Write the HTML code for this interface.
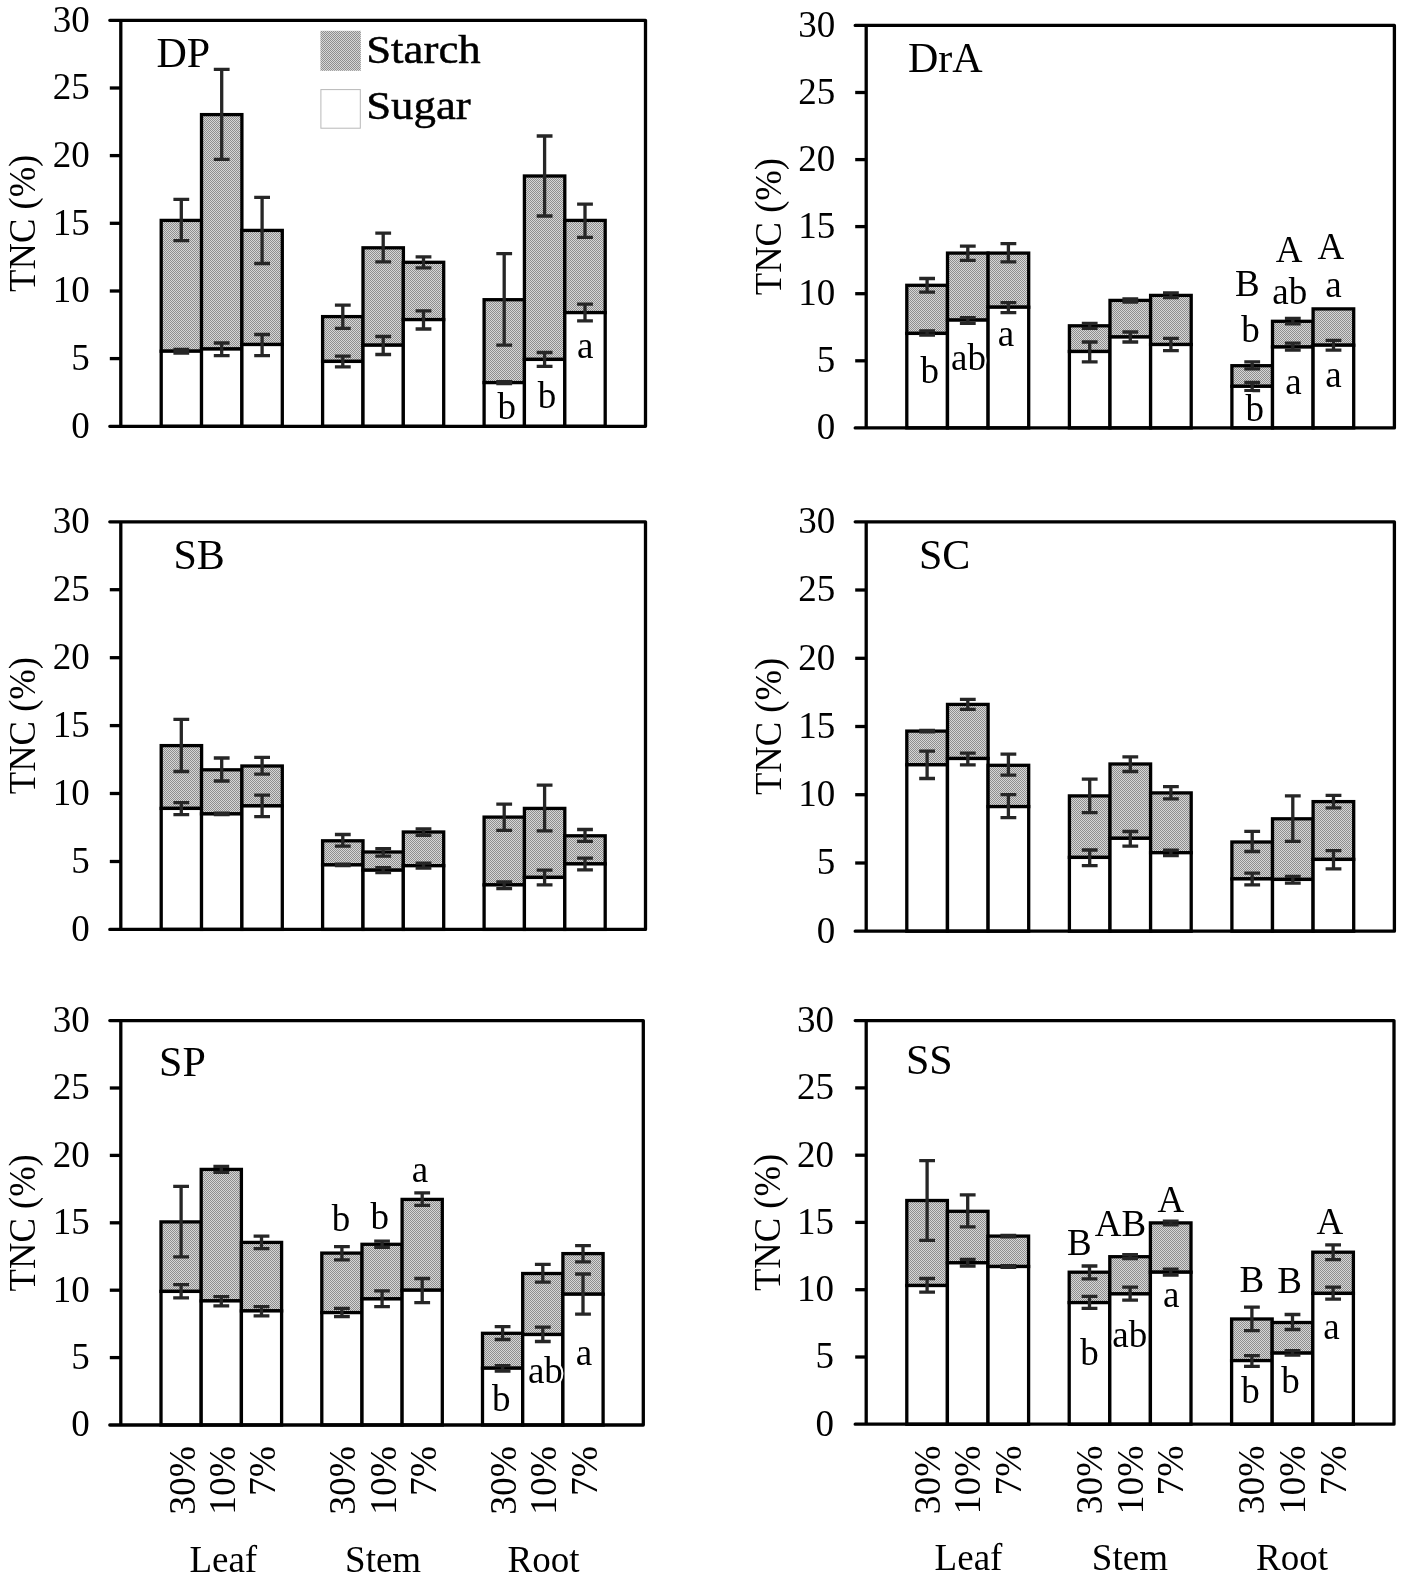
<!DOCTYPE html>
<html lang="en"><head><meta charset="utf-8"><title>TNC (%) Starch and Sugar by species</title>
<style>
html,body{margin:0;padding:0;background:#fff}
body{width:1405px;height:1575px;overflow:hidden}
svg text{font-family:"Liberation Serif", serif;fill:#000}
svg text.h{paint-order:stroke;stroke:#fff;stroke-width:4px;stroke-linejoin:round}
</style></head><body>
<svg width="1405" height="1575" viewBox="0 0 1405 1575" style="display:block;will-change:transform">
<defs><pattern id="hatch" width="2" height="2" patternUnits="userSpaceOnUse"><rect width="2" height="2" fill="#d6d6d6"/><rect x="0" y="0" width="1" height="1" fill="#8e8e8e"/><rect x="1" y="1" width="1" height="1" fill="#8e8e8e"/></pattern></defs>
<rect width="1405" height="1575" fill="#fff"/>
<g id="p-DP">
<rect x="161.2" y="220.4" width="40.4" height="130.8" fill="url(#hatch)" stroke="#000" stroke-width="3.3"/>
<rect x="161.2" y="351.2" width="40.4" height="75.1" fill="#fff" stroke="#000" stroke-width="3.3"/>
<rect x="201.5" y="114.6" width="40.4" height="234.4" fill="url(#hatch)" stroke="#000" stroke-width="3.3"/>
<rect x="201.5" y="349" width="40.4" height="77.3" fill="#fff" stroke="#000" stroke-width="3.3"/>
<rect x="241.9" y="230.4" width="40.4" height="114.1" fill="url(#hatch)" stroke="#000" stroke-width="3.3"/>
<rect x="241.9" y="344.5" width="40.4" height="81.8" fill="#fff" stroke="#000" stroke-width="3.3"/>
<rect x="322.6" y="316.6" width="40.4" height="44.8" fill="url(#hatch)" stroke="#000" stroke-width="3.3"/>
<rect x="322.6" y="361.4" width="40.4" height="64.9" fill="#fff" stroke="#000" stroke-width="3.3"/>
<rect x="363" y="247.8" width="40.4" height="97.4" fill="url(#hatch)" stroke="#000" stroke-width="3.3"/>
<rect x="363" y="345.2" width="40.4" height="81.1" fill="#fff" stroke="#000" stroke-width="3.3"/>
<rect x="403.3" y="262.3" width="40.4" height="57.3" fill="url(#hatch)" stroke="#000" stroke-width="3.3"/>
<rect x="403.3" y="319.6" width="40.4" height="106.7" fill="#fff" stroke="#000" stroke-width="3.3"/>
<rect x="484.1" y="299.7" width="40.4" height="82.9" fill="url(#hatch)" stroke="#000" stroke-width="3.3"/>
<rect x="484.1" y="382.6" width="40.4" height="43.7" fill="#fff" stroke="#000" stroke-width="3.3"/>
<rect x="524.4" y="176" width="40.4" height="183.4" fill="url(#hatch)" stroke="#000" stroke-width="3.3"/>
<rect x="524.4" y="359.4" width="40.4" height="66.9" fill="#fff" stroke="#000" stroke-width="3.3"/>
<rect x="564.8" y="220.4" width="40.4" height="92.2" fill="url(#hatch)" stroke="#000" stroke-width="3.3"/>
<rect x="564.8" y="312.6" width="40.4" height="113.7" fill="#fff" stroke="#000" stroke-width="3.3"/>
<path d="M181.3 199.3V240.6M173.4 199.3H189.2M173.4 240.6H189.2" stroke="#262626" stroke-width="3.3" fill="none"/>
<path d="M181.3 349.5V353M173.4 349.5H189.2M173.4 353H189.2" stroke="#262626" stroke-width="3.3" fill="none"/>
<path d="M221.7 69.3V159.4M213.8 69.3H229.6M213.8 159.4H229.6" stroke="#262626" stroke-width="3.3" fill="none"/>
<path d="M221.7 343V355.7M213.8 343H229.6M213.8 355.7H229.6" stroke="#262626" stroke-width="3.3" fill="none"/>
<path d="M262.1 197.3V263.5M254.2 197.3H270M254.2 263.5H270" stroke="#262626" stroke-width="3.3" fill="none"/>
<path d="M262.1 334.5V355.7M254.2 334.5H270M254.2 355.7H270" stroke="#262626" stroke-width="3.3" fill="none"/>
<path d="M342.8 305.1V328.3M334.9 305.1H350.7M334.9 328.3H350.7" stroke="#262626" stroke-width="3.3" fill="none"/>
<path d="M342.8 356.2V366.9M334.9 356.2H350.7M334.9 366.9H350.7" stroke="#262626" stroke-width="3.3" fill="none"/>
<path d="M383.2 233.1V261.8M375.3 233.1H391.1M375.3 261.8H391.1" stroke="#262626" stroke-width="3.3" fill="none"/>
<path d="M383.2 336.5V354.5M375.3 336.5H391.1M375.3 354.5H391.1" stroke="#262626" stroke-width="3.3" fill="none"/>
<path d="M423.5 256.8V267.8M415.6 256.8H431.4M415.6 267.8H431.4" stroke="#262626" stroke-width="3.3" fill="none"/>
<path d="M423.5 310.9V329M415.6 310.9H431.4M415.6 329H431.4" stroke="#262626" stroke-width="3.3" fill="none"/>
<path d="M504.2 253.6V345.2M496.3 253.6H512.1M496.3 345.2H512.1" stroke="#262626" stroke-width="3.3" fill="none"/>
<path d="M504.2 381.6V383.6M496.3 381.6H512.1M496.3 383.6H512.1" stroke="#262626" stroke-width="3.3" fill="none"/>
<path d="M544.6 136V216M536.7 136H552.5M536.7 216H552.5" stroke="#262626" stroke-width="3.3" fill="none"/>
<path d="M544.6 352.5V366.4M536.7 352.5H552.5M536.7 366.4H552.5" stroke="#262626" stroke-width="3.3" fill="none"/>
<path d="M585 204.2V237.4M577.1 204.2H592.9M577.1 237.4H592.9" stroke="#262626" stroke-width="3.3" fill="none"/>
<path d="M585 304.1V320.8M577.1 304.1H592.9M577.1 320.8H592.9" stroke="#262626" stroke-width="3.3" fill="none"/>
<path d="M109.8 20.3H645.5V426.3H109.8M120.8 20.3V426.3" stroke="#000" stroke-width="3.3" fill="none" stroke-linejoin="round" stroke-linecap="round"/>
<text x="89.8" y="437.7" font-size="37" text-anchor="end">0</text>
<path d="M109.8 358.6H120.8" stroke="#000" stroke-width="3.3"/>
<text x="89.8" y="370" font-size="37" text-anchor="end">5</text>
<path d="M109.8 291H120.8" stroke="#000" stroke-width="3.3"/>
<text x="89.8" y="302.4" font-size="37" text-anchor="end">10</text>
<path d="M109.8 223.3H120.8" stroke="#000" stroke-width="3.3"/>
<text x="89.8" y="234.7" font-size="37" text-anchor="end">15</text>
<path d="M109.8 155.6H120.8" stroke="#000" stroke-width="3.3"/>
<text x="89.8" y="167" font-size="37" text-anchor="end">20</text>
<path d="M109.8 88H120.8" stroke="#000" stroke-width="3.3"/>
<text x="89.8" y="99.4" font-size="37" text-anchor="end">25</text>
<text x="89.8" y="31.7" font-size="37" text-anchor="end">30</text>
<text transform="translate(35.2 223.3) rotate(-90) scale(1 1.045)" font-size="36.6" text-anchor="middle">TNC (%)</text>
<text x="156.4" y="66.8" font-size="42">DP</text>
<text x="506.8" y="418.8" font-size="37" text-anchor="middle" class="h">b</text>
<text x="547" y="407.6" font-size="37" text-anchor="middle" class="h">b</text>
<text x="585.2" y="357.8" font-size="37" text-anchor="middle" class="h">a</text>
</g>
<g id="p-DrA">
<rect x="906.8" y="285.3" width="40.6" height="48.1" fill="url(#hatch)" stroke="#000" stroke-width="3.3"/>
<rect x="906.8" y="333.4" width="40.6" height="94.5" fill="#fff" stroke="#000" stroke-width="3.3"/>
<rect x="947.5" y="253.1" width="40.6" height="67" fill="url(#hatch)" stroke="#000" stroke-width="3.3"/>
<rect x="947.5" y="320.1" width="40.6" height="107.8" fill="#fff" stroke="#000" stroke-width="3.3"/>
<rect x="988.1" y="253.1" width="40.6" height="54.1" fill="url(#hatch)" stroke="#000" stroke-width="3.3"/>
<rect x="988.1" y="307.2" width="40.6" height="120.7" fill="#fff" stroke="#000" stroke-width="3.3"/>
<rect x="1069.4" y="325.8" width="40.6" height="25.7" fill="url(#hatch)" stroke="#000" stroke-width="3.3"/>
<rect x="1069.4" y="351.5" width="40.6" height="76.4" fill="#fff" stroke="#000" stroke-width="3.3"/>
<rect x="1110" y="300.4" width="40.6" height="36.6" fill="url(#hatch)" stroke="#000" stroke-width="3.3"/>
<rect x="1110" y="337" width="40.6" height="90.9" fill="#fff" stroke="#000" stroke-width="3.3"/>
<rect x="1150.6" y="295.4" width="40.6" height="49.1" fill="url(#hatch)" stroke="#000" stroke-width="3.3"/>
<rect x="1150.6" y="344.5" width="40.6" height="83.4" fill="#fff" stroke="#000" stroke-width="3.3"/>
<rect x="1231.9" y="365.7" width="40.6" height="20.6" fill="url(#hatch)" stroke="#000" stroke-width="3.3"/>
<rect x="1231.9" y="386.3" width="40.6" height="41.6" fill="#fff" stroke="#000" stroke-width="3.3"/>
<rect x="1272.5" y="321.3" width="40.6" height="25.7" fill="url(#hatch)" stroke="#000" stroke-width="3.3"/>
<rect x="1272.5" y="347" width="40.6" height="80.9" fill="#fff" stroke="#000" stroke-width="3.3"/>
<rect x="1313.1" y="308.9" width="40.6" height="36.3" fill="url(#hatch)" stroke="#000" stroke-width="3.3"/>
<rect x="1313.1" y="345.2" width="40.6" height="82.7" fill="#fff" stroke="#000" stroke-width="3.3"/>
<path d="M927.1 278.5V292.2M919.2 278.5H935M919.2 292.2H935" stroke="#262626" stroke-width="3.3" fill="none"/>
<path d="M927.1 330.9V335.1M919.2 330.9H935M919.2 335.1H935" stroke="#262626" stroke-width="3.3" fill="none"/>
<path d="M967.8 246.2V260.4M959.9 246.2H975.7M959.9 260.4H975.7" stroke="#262626" stroke-width="3.3" fill="none"/>
<path d="M967.8 317.7V323.4M959.9 317.7H975.7M959.9 323.4H975.7" stroke="#262626" stroke-width="3.3" fill="none"/>
<path d="M1008.4 243.7V261.9M1000.5 243.7H1016.3M1000.5 261.9H1016.3" stroke="#262626" stroke-width="3.3" fill="none"/>
<path d="M1008.4 302.7V312.7M1000.5 302.7H1016.3M1000.5 312.7H1016.3" stroke="#262626" stroke-width="3.3" fill="none"/>
<path d="M1089.7 323.3V328.3M1081.8 323.3H1097.6M1081.8 328.3H1097.6" stroke="#262626" stroke-width="3.3" fill="none"/>
<path d="M1089.7 342V361.9M1081.8 342H1097.6M1081.8 361.9H1097.6" stroke="#262626" stroke-width="3.3" fill="none"/>
<path d="M1130.3 298.9V302.1M1122.4 298.9H1138.2M1122.4 302.1H1138.2" stroke="#262626" stroke-width="3.3" fill="none"/>
<path d="M1130.3 332V342M1122.4 332H1138.2M1122.4 342H1138.2" stroke="#262626" stroke-width="3.3" fill="none"/>
<path d="M1170.9 292.9V297.7M1163 292.9H1178.8M1163 297.7H1178.8" stroke="#262626" stroke-width="3.3" fill="none"/>
<path d="M1170.9 338.3V350.7M1163 338.3H1178.8M1163 350.7H1178.8" stroke="#262626" stroke-width="3.3" fill="none"/>
<path d="M1252.2 361.9V368.9M1244.3 361.9H1260.1M1244.3 368.9H1260.1" stroke="#262626" stroke-width="3.3" fill="none"/>
<path d="M1252.2 382.4V390.6M1244.3 382.4H1260.1M1244.3 390.6H1260.1" stroke="#262626" stroke-width="3.3" fill="none"/>
<path d="M1292.8 318.3V323.8M1284.9 318.3H1300.7M1284.9 323.8H1300.7" stroke="#262626" stroke-width="3.3" fill="none"/>
<path d="M1292.8 343.2V350.2M1284.9 343.2H1300.7M1284.9 350.2H1300.7" stroke="#262626" stroke-width="3.3" fill="none"/>
<path d="M1333.5 340.3V350.2M1325.6 340.3H1341.4M1325.6 350.2H1341.4" stroke="#262626" stroke-width="3.3" fill="none"/>
<path d="M855.2 25.4H1394.4V427.9H855.2M866.2 25.4V427.9" stroke="#000" stroke-width="3.3" fill="none" stroke-linejoin="round" stroke-linecap="round"/>
<text x="835.2" y="439.2" font-size="37" text-anchor="end">0</text>
<path d="M855.2 360.8H866.2" stroke="#000" stroke-width="3.3"/>
<text x="835.2" y="372.2" font-size="37" text-anchor="end">5</text>
<path d="M855.2 293.7H866.2" stroke="#000" stroke-width="3.3"/>
<text x="835.2" y="305.1" font-size="37" text-anchor="end">10</text>
<path d="M855.2 226.6H866.2" stroke="#000" stroke-width="3.3"/>
<text x="835.2" y="238" font-size="37" text-anchor="end">15</text>
<path d="M855.2 159.6H866.2" stroke="#000" stroke-width="3.3"/>
<text x="835.2" y="171" font-size="37" text-anchor="end">20</text>
<path d="M855.2 92.5H866.2" stroke="#000" stroke-width="3.3"/>
<text x="835.2" y="103.9" font-size="37" text-anchor="end">25</text>
<text x="835.2" y="36.8" font-size="37" text-anchor="end">30</text>
<text transform="translate(780.6 226.6) rotate(-90) scale(1 1.045)" font-size="36.6" text-anchor="middle">TNC (%)</text>
<text x="907.9" y="71.5" font-size="42">DrA</text>
<text x="929.8" y="382.7" font-size="37" text-anchor="middle" class="h">b</text>
<text x="968.5" y="370.3" font-size="37" text-anchor="middle" class="h">ab</text>
<text x="1006" y="346.1" font-size="37" text-anchor="middle" class="h">a</text>
<text x="1247.3" y="296.2" font-size="37" text-anchor="middle" class="h">B</text>
<text x="1250.5" y="341.6" font-size="37" text-anchor="middle" class="h">b</text>
<text x="1254.8" y="421.3" font-size="37" text-anchor="middle" class="h">b</text>
<text x="1289.2" y="261.8" font-size="37" text-anchor="middle" class="h">A</text>
<text x="1289.7" y="303.7" font-size="37" text-anchor="middle" class="h">ab</text>
<text x="1293.4" y="393.9" font-size="37" text-anchor="middle" class="h">a</text>
<text x="1330.8" y="258.6" font-size="37" text-anchor="middle" class="h">A</text>
<text x="1333.5" y="296.7" font-size="37" text-anchor="middle" class="h">a</text>
<text x="1333.5" y="387.1" font-size="37" text-anchor="middle" class="h">a</text>
</g>
<g id="p-SB">
<rect x="161.2" y="745.6" width="40.4" height="62.8" fill="url(#hatch)" stroke="#000" stroke-width="3.3"/>
<rect x="161.2" y="808.4" width="40.4" height="121" fill="#fff" stroke="#000" stroke-width="3.3"/>
<rect x="201.5" y="769.8" width="40.4" height="44.1" fill="url(#hatch)" stroke="#000" stroke-width="3.3"/>
<rect x="201.5" y="813.9" width="40.4" height="115.5" fill="#fff" stroke="#000" stroke-width="3.3"/>
<rect x="241.9" y="766" width="40.4" height="39.9" fill="url(#hatch)" stroke="#000" stroke-width="3.3"/>
<rect x="241.9" y="805.9" width="40.4" height="123.5" fill="#fff" stroke="#000" stroke-width="3.3"/>
<rect x="322.6" y="840.8" width="40.4" height="24.1" fill="url(#hatch)" stroke="#000" stroke-width="3.3"/>
<rect x="322.6" y="864.9" width="40.4" height="64.5" fill="#fff" stroke="#000" stroke-width="3.3"/>
<rect x="363" y="852" width="40.4" height="18.2" fill="url(#hatch)" stroke="#000" stroke-width="3.3"/>
<rect x="363" y="870.2" width="40.4" height="59.2" fill="#fff" stroke="#000" stroke-width="3.3"/>
<rect x="403.3" y="832" width="40.4" height="33.7" fill="url(#hatch)" stroke="#000" stroke-width="3.3"/>
<rect x="403.3" y="865.7" width="40.4" height="63.7" fill="#fff" stroke="#000" stroke-width="3.3"/>
<rect x="484.1" y="817.1" width="40.4" height="67.8" fill="url(#hatch)" stroke="#000" stroke-width="3.3"/>
<rect x="484.1" y="884.9" width="40.4" height="44.5" fill="#fff" stroke="#000" stroke-width="3.3"/>
<rect x="524.4" y="808.4" width="40.4" height="69" fill="url(#hatch)" stroke="#000" stroke-width="3.3"/>
<rect x="524.4" y="877.4" width="40.4" height="52" fill="#fff" stroke="#000" stroke-width="3.3"/>
<rect x="564.8" y="835.8" width="40.4" height="28.1" fill="url(#hatch)" stroke="#000" stroke-width="3.3"/>
<rect x="564.8" y="863.9" width="40.4" height="65.5" fill="#fff" stroke="#000" stroke-width="3.3"/>
<path d="M181.3 719.4V771.5M173.4 719.4H189.2M173.4 771.5H189.2" stroke="#262626" stroke-width="3.3" fill="none"/>
<path d="M181.3 802.6V814.6M173.4 802.6H189.2M173.4 814.6H189.2" stroke="#262626" stroke-width="3.3" fill="none"/>
<path d="M221.7 758V781M213.8 758H229.6M213.8 781H229.6" stroke="#262626" stroke-width="3.3" fill="none"/>
<path d="M221.7 813.1V814.7M213.8 813.1H229.6M213.8 814.7H229.6" stroke="#262626" stroke-width="3.3" fill="none"/>
<path d="M262.1 757.3V774.2M254.2 757.3H270M254.2 774.2H270" stroke="#262626" stroke-width="3.3" fill="none"/>
<path d="M262.1 795.2V816.6M254.2 795.2H270M254.2 816.6H270" stroke="#262626" stroke-width="3.3" fill="none"/>
<path d="M342.8 834.5V846.2M334.9 834.5H350.7M334.9 846.2H350.7" stroke="#262626" stroke-width="3.3" fill="none"/>
<path d="M342.8 864.2V865.6M334.9 864.2H350.7M334.9 865.6H350.7" stroke="#262626" stroke-width="3.3" fill="none"/>
<path d="M383.2 848.7V856.2M375.3 848.7H391.1M375.3 856.2H391.1" stroke="#262626" stroke-width="3.3" fill="none"/>
<path d="M383.2 867.7V872.6M375.3 867.7H391.1M375.3 872.6H391.1" stroke="#262626" stroke-width="3.3" fill="none"/>
<path d="M423.5 828.8V835.3M415.6 828.8H431.4M415.6 835.3H431.4" stroke="#262626" stroke-width="3.3" fill="none"/>
<path d="M423.5 863.2V868.2M415.6 863.2H431.4M415.6 868.2H431.4" stroke="#262626" stroke-width="3.3" fill="none"/>
<path d="M504.2 804.1V830.3M496.3 804.1H512.1M496.3 830.3H512.1" stroke="#262626" stroke-width="3.3" fill="none"/>
<path d="M504.2 881.9V888.6M496.3 881.9H512.1M496.3 888.6H512.1" stroke="#262626" stroke-width="3.3" fill="none"/>
<path d="M544.6 785.2V830.8M536.7 785.2H552.5M536.7 830.8H552.5" stroke="#262626" stroke-width="3.3" fill="none"/>
<path d="M544.6 870.2V884.9M536.7 870.2H552.5M536.7 884.9H552.5" stroke="#262626" stroke-width="3.3" fill="none"/>
<path d="M585 829.5V841.3M577.1 829.5H592.9M577.1 841.3H592.9" stroke="#262626" stroke-width="3.3" fill="none"/>
<path d="M585 858.2V869.9M577.1 858.2H592.9M577.1 869.9H592.9" stroke="#262626" stroke-width="3.3" fill="none"/>
<path d="M109.8 521.8H645.5V929.4H109.8M120.8 521.8V929.4" stroke="#000" stroke-width="3.3" fill="none" stroke-linejoin="round" stroke-linecap="round"/>
<text x="89.8" y="940.8" font-size="37" text-anchor="end">0</text>
<path d="M109.8 861.5H120.8" stroke="#000" stroke-width="3.3"/>
<text x="89.8" y="872.9" font-size="37" text-anchor="end">5</text>
<path d="M109.8 793.5H120.8" stroke="#000" stroke-width="3.3"/>
<text x="89.8" y="804.9" font-size="37" text-anchor="end">10</text>
<path d="M109.8 725.6H120.8" stroke="#000" stroke-width="3.3"/>
<text x="89.8" y="737" font-size="37" text-anchor="end">15</text>
<path d="M109.8 657.7H120.8" stroke="#000" stroke-width="3.3"/>
<text x="89.8" y="669.1" font-size="37" text-anchor="end">20</text>
<path d="M109.8 589.7H120.8" stroke="#000" stroke-width="3.3"/>
<text x="89.8" y="601.1" font-size="37" text-anchor="end">25</text>
<text x="89.8" y="533.2" font-size="37" text-anchor="end">30</text>
<text transform="translate(35.2 725.6) rotate(-90) scale(1 1.045)" font-size="36.6" text-anchor="middle">TNC (%)</text>
<text x="173.5" y="568.6" font-size="42">SB</text>
</g>
<g id="p-SC">
<rect x="906.8" y="731.1" width="40.6" height="33.7" fill="url(#hatch)" stroke="#000" stroke-width="3.3"/>
<rect x="906.8" y="764.8" width="40.6" height="166.4" fill="#fff" stroke="#000" stroke-width="3.3"/>
<rect x="947.5" y="704.4" width="40.6" height="54.1" fill="url(#hatch)" stroke="#000" stroke-width="3.3"/>
<rect x="947.5" y="758.5" width="40.6" height="172.7" fill="#fff" stroke="#000" stroke-width="3.3"/>
<rect x="988.1" y="765.3" width="40.6" height="41.3" fill="url(#hatch)" stroke="#000" stroke-width="3.3"/>
<rect x="988.1" y="806.6" width="40.6" height="124.6" fill="#fff" stroke="#000" stroke-width="3.3"/>
<rect x="1069.4" y="795.9" width="40.6" height="61.5" fill="url(#hatch)" stroke="#000" stroke-width="3.3"/>
<rect x="1069.4" y="857.4" width="40.6" height="73.8" fill="#fff" stroke="#000" stroke-width="3.3"/>
<rect x="1110" y="764" width="40.6" height="74.3" fill="url(#hatch)" stroke="#000" stroke-width="3.3"/>
<rect x="1110" y="838.3" width="40.6" height="92.9" fill="#fff" stroke="#000" stroke-width="3.3"/>
<rect x="1150.6" y="792.9" width="40.6" height="59.8" fill="url(#hatch)" stroke="#000" stroke-width="3.3"/>
<rect x="1150.6" y="852.7" width="40.6" height="78.5" fill="#fff" stroke="#000" stroke-width="3.3"/>
<rect x="1231.9" y="842" width="40.6" height="36.9" fill="url(#hatch)" stroke="#000" stroke-width="3.3"/>
<rect x="1231.9" y="878.9" width="40.6" height="52.3" fill="#fff" stroke="#000" stroke-width="3.3"/>
<rect x="1272.5" y="818.8" width="40.6" height="60.6" fill="url(#hatch)" stroke="#000" stroke-width="3.3"/>
<rect x="1272.5" y="879.4" width="40.6" height="51.8" fill="#fff" stroke="#000" stroke-width="3.3"/>
<rect x="1313.1" y="801.6" width="40.6" height="57.8" fill="url(#hatch)" stroke="#000" stroke-width="3.3"/>
<rect x="1313.1" y="859.4" width="40.6" height="71.8" fill="#fff" stroke="#000" stroke-width="3.3"/>
<path d="M927.1 730.3V731.9M919.2 730.3H935M919.2 731.9H935" stroke="#262626" stroke-width="3.3" fill="none"/>
<path d="M927.1 751.1V778.5M919.2 751.1H935M919.2 778.5H935" stroke="#262626" stroke-width="3.3" fill="none"/>
<path d="M967.8 699.3V709.3M959.9 699.3H975.7M959.9 709.3H975.7" stroke="#262626" stroke-width="3.3" fill="none"/>
<path d="M967.8 753.1V764.8M959.9 753.1H975.7M959.9 764.8H975.7" stroke="#262626" stroke-width="3.3" fill="none"/>
<path d="M1008.4 754.1V775.2M1000.5 754.1H1016.3M1000.5 775.2H1016.3" stroke="#262626" stroke-width="3.3" fill="none"/>
<path d="M1008.4 794.7V817.6M1000.5 794.7H1016.3M1000.5 817.6H1016.3" stroke="#262626" stroke-width="3.3" fill="none"/>
<path d="M1089.7 779.2V812.6M1081.8 779.2H1097.6M1081.8 812.6H1097.6" stroke="#262626" stroke-width="3.3" fill="none"/>
<path d="M1089.7 850V865.7M1081.8 850H1097.6M1081.8 865.7H1097.6" stroke="#262626" stroke-width="3.3" fill="none"/>
<path d="M1130.3 756.8V771.5M1122.4 756.8H1138.2M1122.4 771.5H1138.2" stroke="#262626" stroke-width="3.3" fill="none"/>
<path d="M1130.3 831.5V846.2M1122.4 831.5H1138.2M1122.4 846.2H1138.2" stroke="#262626" stroke-width="3.3" fill="none"/>
<path d="M1170.9 786.7V798.9M1163 786.7H1178.8M1163 798.9H1178.8" stroke="#262626" stroke-width="3.3" fill="none"/>
<path d="M1170.9 850.2V855.7M1163 850.2H1178.8M1163 855.7H1178.8" stroke="#262626" stroke-width="3.3" fill="none"/>
<path d="M1252.2 831.3V851.5M1244.3 831.3H1260.1M1244.3 851.5H1260.1" stroke="#262626" stroke-width="3.3" fill="none"/>
<path d="M1252.2 873.1V884.9M1244.3 873.1H1260.1M1244.3 884.9H1260.1" stroke="#262626" stroke-width="3.3" fill="none"/>
<path d="M1292.8 795.9V841.3M1284.9 795.9H1300.7M1284.9 841.3H1300.7" stroke="#262626" stroke-width="3.3" fill="none"/>
<path d="M1292.8 876.4V883.1M1284.9 876.4H1300.7M1284.9 883.1H1300.7" stroke="#262626" stroke-width="3.3" fill="none"/>
<path d="M1333.5 795.4V807.9M1325.6 795.4H1341.4M1325.6 807.9H1341.4" stroke="#262626" stroke-width="3.3" fill="none"/>
<path d="M1333.5 850.7V868.9M1325.6 850.7H1341.4M1325.6 868.9H1341.4" stroke="#262626" stroke-width="3.3" fill="none"/>
<path d="M855.2 521.8H1394.4V931.2H855.2M866.2 521.8V931.2" stroke="#000" stroke-width="3.3" fill="none" stroke-linejoin="round" stroke-linecap="round"/>
<text x="835.2" y="942.6" font-size="37" text-anchor="end">0</text>
<path d="M855.2 863H866.2" stroke="#000" stroke-width="3.3"/>
<text x="835.2" y="874.4" font-size="37" text-anchor="end">5</text>
<path d="M855.2 794.7H866.2" stroke="#000" stroke-width="3.3"/>
<text x="835.2" y="806.1" font-size="37" text-anchor="end">10</text>
<path d="M855.2 726.5H866.2" stroke="#000" stroke-width="3.3"/>
<text x="835.2" y="737.9" font-size="37" text-anchor="end">15</text>
<path d="M855.2 658.3H866.2" stroke="#000" stroke-width="3.3"/>
<text x="835.2" y="669.7" font-size="37" text-anchor="end">20</text>
<path d="M855.2 590H866.2" stroke="#000" stroke-width="3.3"/>
<text x="835.2" y="601.4" font-size="37" text-anchor="end">25</text>
<text x="835.2" y="533.2" font-size="37" text-anchor="end">30</text>
<text transform="translate(780.6 726.5) rotate(-90) scale(1 1.045)" font-size="36.6" text-anchor="middle">TNC (%)</text>
<text x="919" y="568.6" font-size="42">SC</text>
</g>
<g id="p-SP">
<rect x="161" y="1221.9" width="40.2" height="69.5" fill="url(#hatch)" stroke="#000" stroke-width="3.3"/>
<rect x="161" y="1291.4" width="40.2" height="133.6" fill="#fff" stroke="#000" stroke-width="3.3"/>
<rect x="201.2" y="1169.4" width="40.2" height="131.5" fill="url(#hatch)" stroke="#000" stroke-width="3.3"/>
<rect x="201.2" y="1300.9" width="40.2" height="124.1" fill="#fff" stroke="#000" stroke-width="3.3"/>
<rect x="241.4" y="1242.4" width="40.2" height="68.5" fill="url(#hatch)" stroke="#000" stroke-width="3.3"/>
<rect x="241.4" y="1310.9" width="40.2" height="114.1" fill="#fff" stroke="#000" stroke-width="3.3"/>
<rect x="321.8" y="1253.1" width="40.2" height="59.5" fill="url(#hatch)" stroke="#000" stroke-width="3.3"/>
<rect x="321.8" y="1312.6" width="40.2" height="112.4" fill="#fff" stroke="#000" stroke-width="3.3"/>
<rect x="362" y="1244.3" width="40.2" height="54.6" fill="url(#hatch)" stroke="#000" stroke-width="3.3"/>
<rect x="362" y="1298.9" width="40.2" height="126.1" fill="#fff" stroke="#000" stroke-width="3.3"/>
<rect x="402.1" y="1199.4" width="40.2" height="90.8" fill="url(#hatch)" stroke="#000" stroke-width="3.3"/>
<rect x="402.1" y="1290.2" width="40.2" height="134.8" fill="#fff" stroke="#000" stroke-width="3.3"/>
<rect x="482.5" y="1333.3" width="40.2" height="34.9" fill="url(#hatch)" stroke="#000" stroke-width="3.3"/>
<rect x="482.5" y="1368.2" width="40.2" height="56.8" fill="#fff" stroke="#000" stroke-width="3.3"/>
<rect x="522.7" y="1273.5" width="40.2" height="61" fill="url(#hatch)" stroke="#000" stroke-width="3.3"/>
<rect x="522.7" y="1334.5" width="40.2" height="90.5" fill="#fff" stroke="#000" stroke-width="3.3"/>
<rect x="562.9" y="1253.6" width="40.2" height="40.6" fill="url(#hatch)" stroke="#000" stroke-width="3.3"/>
<rect x="562.9" y="1294.2" width="40.2" height="130.8" fill="#fff" stroke="#000" stroke-width="3.3"/>
<path d="M181.1 1186.3V1256.8M173.2 1186.3H189M173.2 1256.8H189" stroke="#262626" stroke-width="3.3" fill="none"/>
<path d="M181.1 1284.7V1297.9M173.2 1284.7H189M173.2 1297.9H189" stroke="#262626" stroke-width="3.3" fill="none"/>
<path d="M221.3 1166.4V1172.4M213.4 1166.4H229.2M213.4 1172.4H229.2" stroke="#262626" stroke-width="3.3" fill="none"/>
<path d="M221.3 1296.7V1305.9M213.4 1296.7H229.2M213.4 1305.9H229.2" stroke="#262626" stroke-width="3.3" fill="none"/>
<path d="M261.5 1236.1V1248.6M253.6 1236.1H269.4M253.6 1248.6H269.4" stroke="#262626" stroke-width="3.3" fill="none"/>
<path d="M261.5 1306.6V1315.8M253.6 1306.6H269.4M253.6 1315.8H269.4" stroke="#262626" stroke-width="3.3" fill="none"/>
<path d="M341.9 1246.6V1259.8M334 1246.6H349.8M334 1259.8H349.8" stroke="#262626" stroke-width="3.3" fill="none"/>
<path d="M341.9 1308.4V1316.6M334 1308.4H349.8M334 1316.6H349.8" stroke="#262626" stroke-width="3.3" fill="none"/>
<path d="M382.1 1241.1V1247.3M374.2 1241.1H389.9M374.2 1247.3H389.9" stroke="#262626" stroke-width="3.3" fill="none"/>
<path d="M382.1 1290.9V1306.6M374.2 1290.9H389.9M374.2 1306.6H389.9" stroke="#262626" stroke-width="3.3" fill="none"/>
<path d="M422.2 1192.9V1205.4M414.3 1192.9H430.1M414.3 1205.4H430.1" stroke="#262626" stroke-width="3.3" fill="none"/>
<path d="M422.2 1278.5V1302.6M414.3 1278.5H430.1M414.3 1302.6H430.1" stroke="#262626" stroke-width="3.3" fill="none"/>
<path d="M502.6 1326.6V1339.5M494.7 1326.6H510.5M494.7 1339.5H510.5" stroke="#262626" stroke-width="3.3" fill="none"/>
<path d="M502.6 1365.7V1371.1M494.7 1365.7H510.5M494.7 1371.1H510.5" stroke="#262626" stroke-width="3.3" fill="none"/>
<path d="M542.8 1264.3V1282.2M534.9 1264.3H550.7M534.9 1282.2H550.7" stroke="#262626" stroke-width="3.3" fill="none"/>
<path d="M542.8 1327.1V1341.5M534.9 1327.1H550.7M534.9 1341.5H550.7" stroke="#262626" stroke-width="3.3" fill="none"/>
<path d="M583 1245.6V1261.8M575.1 1245.6H590.9M575.1 1261.8H590.9" stroke="#262626" stroke-width="3.3" fill="none"/>
<path d="M583 1274V1314.1M575.1 1274H590.9M575.1 1314.1H590.9" stroke="#262626" stroke-width="3.3" fill="none"/>
<path d="M109.8 1020.6H643.3V1425H109.8M120.8 1020.6V1425" stroke="#000" stroke-width="3.3" fill="none" stroke-linejoin="round" stroke-linecap="round"/>
<text x="89.8" y="1436.4" font-size="37" text-anchor="end">0</text>
<path d="M109.8 1357.6H120.8" stroke="#000" stroke-width="3.3"/>
<text x="89.8" y="1369" font-size="37" text-anchor="end">5</text>
<path d="M109.8 1290.2H120.8" stroke="#000" stroke-width="3.3"/>
<text x="89.8" y="1301.6" font-size="37" text-anchor="end">10</text>
<path d="M109.8 1222.8H120.8" stroke="#000" stroke-width="3.3"/>
<text x="89.8" y="1234.2" font-size="37" text-anchor="end">15</text>
<path d="M109.8 1155.4H120.8" stroke="#000" stroke-width="3.3"/>
<text x="89.8" y="1166.8" font-size="37" text-anchor="end">20</text>
<path d="M109.8 1088H120.8" stroke="#000" stroke-width="3.3"/>
<text x="89.8" y="1099.4" font-size="37" text-anchor="end">25</text>
<text x="89.8" y="1032" font-size="37" text-anchor="end">30</text>
<text transform="translate(35.2 1222.8) rotate(-90) scale(1 1.045)" font-size="36.6" text-anchor="middle">TNC (%)</text>
<text x="159.1" y="1076" font-size="42">SP</text>
<text x="341.1" y="1231.2" font-size="37" text-anchor="middle" class="h">b</text>
<text x="379.7" y="1228.7" font-size="37" text-anchor="middle" class="h">b</text>
<text x="420" y="1181.6" font-size="37" text-anchor="middle" class="h">a</text>
<text x="501.3" y="1410.8" font-size="37" text-anchor="middle" class="h">b</text>
<text x="545.4" y="1383.4" font-size="37" text-anchor="middle" class="h">ab</text>
<text x="584" y="1365.2" font-size="37" text-anchor="middle" class="h">a</text>
</g>
<g id="p-SS">
<rect x="906.8" y="1200.5" width="40.6" height="85" fill="url(#hatch)" stroke="#000" stroke-width="3.3"/>
<rect x="906.8" y="1285.5" width="40.6" height="138.8" fill="#fff" stroke="#000" stroke-width="3.3"/>
<rect x="947.4" y="1211.3" width="40.6" height="51.5" fill="url(#hatch)" stroke="#000" stroke-width="3.3"/>
<rect x="947.4" y="1262.8" width="40.6" height="161.5" fill="#fff" stroke="#000" stroke-width="3.3"/>
<rect x="988" y="1236.1" width="40.6" height="30.4" fill="url(#hatch)" stroke="#000" stroke-width="3.3"/>
<rect x="988" y="1266.5" width="40.6" height="157.8" fill="#fff" stroke="#000" stroke-width="3.3"/>
<rect x="1069.2" y="1272.2" width="40.6" height="30.4" fill="url(#hatch)" stroke="#000" stroke-width="3.3"/>
<rect x="1069.2" y="1302.6" width="40.6" height="121.7" fill="#fff" stroke="#000" stroke-width="3.3"/>
<rect x="1109.8" y="1256.7" width="40.6" height="37.2" fill="url(#hatch)" stroke="#000" stroke-width="3.3"/>
<rect x="1109.8" y="1293.9" width="40.6" height="130.3" fill="#fff" stroke="#000" stroke-width="3.3"/>
<rect x="1150.4" y="1222.9" width="40.6" height="49.3" fill="url(#hatch)" stroke="#000" stroke-width="3.3"/>
<rect x="1150.4" y="1272.2" width="40.6" height="152" fill="#fff" stroke="#000" stroke-width="3.3"/>
<rect x="1231.6" y="1319" width="40.6" height="41.6" fill="url(#hatch)" stroke="#000" stroke-width="3.3"/>
<rect x="1231.6" y="1360.6" width="40.6" height="63.7" fill="#fff" stroke="#000" stroke-width="3.3"/>
<rect x="1272.2" y="1322.5" width="40.6" height="30.6" fill="url(#hatch)" stroke="#000" stroke-width="3.3"/>
<rect x="1272.2" y="1353.1" width="40.6" height="71.2" fill="#fff" stroke="#000" stroke-width="3.3"/>
<rect x="1312.8" y="1252.2" width="40.6" height="41.2" fill="url(#hatch)" stroke="#000" stroke-width="3.3"/>
<rect x="1312.8" y="1293.4" width="40.6" height="130.8" fill="#fff" stroke="#000" stroke-width="3.3"/>
<path d="M927.1 1160.7V1240.4M919.2 1160.7H935M919.2 1240.4H935" stroke="#262626" stroke-width="3.3" fill="none"/>
<path d="M927.1 1278.5V1292.2M919.2 1278.5H935M919.2 1292.2H935" stroke="#262626" stroke-width="3.3" fill="none"/>
<path d="M967.7 1194.8V1226.9M959.8 1194.8H975.6M959.8 1226.9H975.6" stroke="#262626" stroke-width="3.3" fill="none"/>
<path d="M967.7 1259.3V1266M959.8 1259.3H975.6M959.8 1266H975.6" stroke="#262626" stroke-width="3.3" fill="none"/>
<path d="M1008.3 1235.3V1236.9M1000.4 1235.3H1016.2M1000.4 1236.9H1016.2" stroke="#262626" stroke-width="3.3" fill="none"/>
<path d="M1008.3 1265.7V1267.3M1000.4 1265.7H1016.2M1000.4 1267.3H1016.2" stroke="#262626" stroke-width="3.3" fill="none"/>
<path d="M1089.5 1266V1278.9M1081.6 1266H1097.4M1081.6 1278.9H1097.4" stroke="#262626" stroke-width="3.3" fill="none"/>
<path d="M1089.5 1296.3V1308.3M1081.6 1296.3H1097.4M1081.6 1308.3H1097.4" stroke="#262626" stroke-width="3.3" fill="none"/>
<path d="M1130.1 1254.7V1258.5M1122.2 1254.7H1138M1122.2 1258.5H1138" stroke="#262626" stroke-width="3.3" fill="none"/>
<path d="M1130.1 1287.1V1300.1M1122.2 1287.1H1138M1122.2 1300.1H1138" stroke="#262626" stroke-width="3.3" fill="none"/>
<path d="M1170.7 1221.1V1224.8M1162.8 1221.1H1178.6M1162.8 1224.8H1178.6" stroke="#262626" stroke-width="3.3" fill="none"/>
<path d="M1170.7 1269.2V1275.2M1162.8 1269.2H1178.6M1162.8 1275.2H1178.6" stroke="#262626" stroke-width="3.3" fill="none"/>
<path d="M1251.9 1307.1V1330.7M1244 1307.1H1259.8M1244 1330.7H1259.8" stroke="#262626" stroke-width="3.3" fill="none"/>
<path d="M1251.9 1355.6V1366.3M1244 1355.6H1259.8M1244 1366.3H1259.8" stroke="#262626" stroke-width="3.3" fill="none"/>
<path d="M1292.5 1314.5V1329.5M1284.6 1314.5H1300.4M1284.6 1329.5H1300.4" stroke="#262626" stroke-width="3.3" fill="none"/>
<path d="M1292.5 1350.7V1355.1M1284.6 1350.7H1300.4M1284.6 1355.1H1300.4" stroke="#262626" stroke-width="3.3" fill="none"/>
<path d="M1333.1 1244.8V1259.7M1325.2 1244.8H1341M1325.2 1259.7H1341" stroke="#262626" stroke-width="3.3" fill="none"/>
<path d="M1333.1 1287.1V1299.1M1325.2 1287.1H1341M1325.2 1299.1H1341" stroke="#262626" stroke-width="3.3" fill="none"/>
<path d="M855.2 1020.6H1394V1424.2H855.2M866.2 1020.6V1424.2" stroke="#000" stroke-width="3.3" fill="none" stroke-linejoin="round" stroke-linecap="round"/>
<text x="834" y="1435.7" font-size="37" text-anchor="end">0</text>
<path d="M855.2 1357H866.2" stroke="#000" stroke-width="3.3"/>
<text x="834" y="1368.4" font-size="37" text-anchor="end">5</text>
<path d="M855.2 1289.7H866.2" stroke="#000" stroke-width="3.3"/>
<text x="834" y="1301.1" font-size="37" text-anchor="end">10</text>
<path d="M855.2 1222.4H866.2" stroke="#000" stroke-width="3.3"/>
<text x="834" y="1233.8" font-size="37" text-anchor="end">15</text>
<path d="M855.2 1155.2H866.2" stroke="#000" stroke-width="3.3"/>
<text x="834" y="1166.6" font-size="37" text-anchor="end">20</text>
<path d="M855.2 1087.9H866.2" stroke="#000" stroke-width="3.3"/>
<text x="834" y="1099.3" font-size="37" text-anchor="end">25</text>
<text x="834" y="1032" font-size="37" text-anchor="end">30</text>
<text transform="translate(779.8 1222.4) rotate(-90) scale(1 1.045)" font-size="36.6" text-anchor="middle">TNC (%)</text>
<text x="906" y="1074.3" font-size="42">SS</text>
<text x="1079.4" y="1255" font-size="37" text-anchor="middle" class="h">B</text>
<text x="1120.5" y="1235.6" font-size="37" text-anchor="middle" class="h">AB</text>
<text x="1170.8" y="1211.9" font-size="37" text-anchor="middle" class="h">A</text>
<text x="1089.4" y="1365.2" font-size="37" text-anchor="middle" class="h">b</text>
<text x="1129.7" y="1346.5" font-size="37" text-anchor="middle" class="h">ab</text>
<text x="1171.3" y="1307.4" font-size="37" text-anchor="middle" class="h">a</text>
<text x="1251.8" y="1291.7" font-size="37" text-anchor="middle" class="h">B</text>
<text x="1289.7" y="1293.4" font-size="37" text-anchor="middle" class="h">B</text>
<text x="1329.8" y="1234.4" font-size="37" text-anchor="middle" class="h">A</text>
<text x="1331.5" y="1339" font-size="37" text-anchor="middle" class="h">a</text>
<text x="1250.5" y="1403.3" font-size="37" text-anchor="middle" class="h">b</text>
<text x="1290.4" y="1392.6" font-size="37" text-anchor="middle" class="h">b</text>
</g>
<rect x="320.4" y="30.8" width="40.4" height="40" fill="url(#hatch)"/>
<rect x="320.9" y="89.6" width="39.4" height="38.6" fill="#fff" stroke="#b8b8b8" stroke-width="1"/>
<text x="366.2" y="62.9" font-size="40" textLength="114.5" lengthAdjust="spacingAndGlyphs" stroke="#000" stroke-width="0.5">Starch</text>
<text x="366.2" y="118.8" font-size="40" textLength="104.5" lengthAdjust="spacingAndGlyphs" stroke="#000" stroke-width="0.5">Sugar</text>
<text transform="translate(194.6 1446) rotate(-90) scale(1 1.035)" font-size="37.5" text-anchor="end">30%</text>
<text transform="translate(234.8 1446) rotate(-90) scale(1 1.035)" font-size="37.5" text-anchor="end">10%</text>
<text transform="translate(275 1446) rotate(-90) scale(1 1.035)" font-size="37.5" text-anchor="end">7%</text>
<text transform="translate(355.4 1446) rotate(-90) scale(1 1.035)" font-size="37.5" text-anchor="end">30%</text>
<text transform="translate(395.6 1446) rotate(-90) scale(1 1.035)" font-size="37.5" text-anchor="end">10%</text>
<text transform="translate(435.7 1446) rotate(-90) scale(1 1.035)" font-size="37.5" text-anchor="end">7%</text>
<text transform="translate(516.1 1446) rotate(-90) scale(1 1.035)" font-size="37.5" text-anchor="end">30%</text>
<text transform="translate(556.3 1446) rotate(-90) scale(1 1.035)" font-size="37.5" text-anchor="end">10%</text>
<text transform="translate(596.5 1446) rotate(-90) scale(1 1.035)" font-size="37.5" text-anchor="end">7%</text>
<text x="223.3" y="1571.5" font-size="37" text-anchor="middle">Leaf</text>
<text x="383.1" y="1571.5" font-size="37" text-anchor="middle">Stem</text>
<text x="543.6" y="1571.5" font-size="37" text-anchor="middle">Root</text>
<text transform="translate(939.5 1445.4) rotate(-90) scale(1 1.035)" font-size="37.5" text-anchor="end">30%</text>
<text transform="translate(980.1 1445.4) rotate(-90) scale(1 1.035)" font-size="37.5" text-anchor="end">10%</text>
<text transform="translate(1020.7 1445.4) rotate(-90) scale(1 1.035)" font-size="37.5" text-anchor="end">7%</text>
<text transform="translate(1101.9 1445.4) rotate(-90) scale(1 1.035)" font-size="37.5" text-anchor="end">30%</text>
<text transform="translate(1142.5 1445.4) rotate(-90) scale(1 1.035)" font-size="37.5" text-anchor="end">10%</text>
<text transform="translate(1183.1 1445.4) rotate(-90) scale(1 1.035)" font-size="37.5" text-anchor="end">7%</text>
<text transform="translate(1264.3 1445.4) rotate(-90) scale(1 1.035)" font-size="37.5" text-anchor="end">30%</text>
<text transform="translate(1304.9 1445.4) rotate(-90) scale(1 1.035)" font-size="37.5" text-anchor="end">10%</text>
<text transform="translate(1345.5 1445.4) rotate(-90) scale(1 1.035)" font-size="37.5" text-anchor="end">7%</text>
<text x="968.5" y="1570.3" font-size="37" text-anchor="middle">Leaf</text>
<text x="1129.9" y="1570.3" font-size="37" text-anchor="middle">Stem</text>
<text x="1292.1" y="1570.3" font-size="37" text-anchor="middle">Root</text>
</svg>
</body></html>
